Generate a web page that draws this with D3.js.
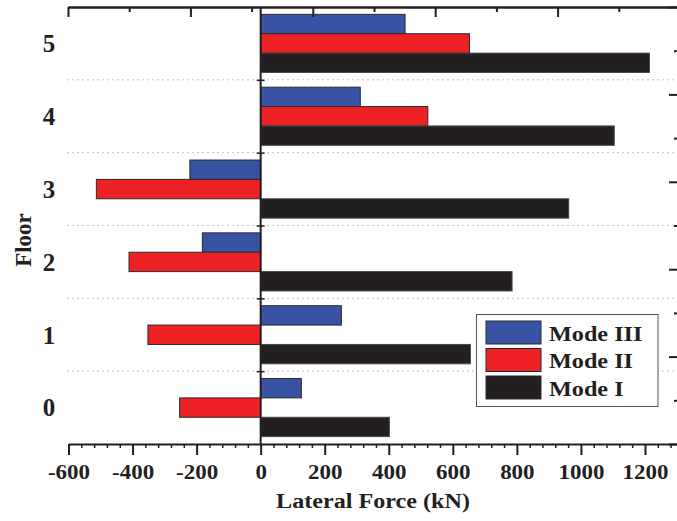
<!DOCTYPE html>
<html>
<head>
<meta charset="utf-8">
<script src="https://cdn.jsdelivr.net/npm/d3@7"></script>
<style>
  html, body { margin: 0; padding: 0; background: #fff; }
  svg { display: block; }
  text { font-family: "Liberation Serif", "Times New Roman", serif; font-weight: bold; fill: #231f20; }
</style>
</head>
<body>
<svg id="chart" width="677" height="521"></svg>
<script>
// Floors (top to bottom) and lateral force per vibration mode, kN
const floors = ["5", "4", "3", "2", "1", "0"];
const modeIII = [451, 311, -221, -182, 252, 127];
const modeII  = [652, 522, -513, -411, -352, -253];
const modeI   = [1214, 1104, 962, 785, 655, 402];
const seriesNames = ["Mode III", "Mode II", "Mode I"];
const seriesColors = ["#3853a4", "#ee2124", "#231f20"];
const xTickValues = [-600, -400, -200, 0, 200, 400, 600, 800, 1000, 1200];

(function () {
const series = [modeIII, modeII, modeI];
const svg = d3.select("#chart");
const ink = "#231f20";

const plotTop = 7, plotBottom = 444, plotLeft = 68.5, plotRight = 677;

const x = d3.scaleLinear().domain([-600, 1300]).range([plotLeft, plotRight]);
const y = d3.scaleBand().domain(floors).range([plotTop, plotBottom]);
const ySub = d3.scaleBand().domain(seriesNames).range([0, y.bandwidth()]).paddingOuter(0.38);

// dotted separators between floors
const boundaries = d3.scaleLinear().domain([0, 6]).range([plotBottom, plotTop]);
svg.append("g").selectAll("line").data([1, 2, 3, 4, 5]).join("line")
  .attr("x1", 67).attr("x2", plotRight)
  .attr("y1", d => boundaries(d)).attr("y2", d => boundaries(d))
  .attr("stroke", "#c4c4c4").attr("stroke-width", 1).attr("stroke-dasharray", "2,3");

// bars
series.forEach((vals, si) => {
  svg.append("g").selectAll("rect").data(vals).join("rect")
    .attr("x", d => x(Math.min(0, d)))
    .attr("width", d => Math.abs(x(d) - x(0)))
    .attr("y", (d, i) => y(floors[i]) + ySub(seriesNames[si]))
    .attr("height", ySub.bandwidth())
    .attr("fill", seriesColors[si])
    .attr("stroke", si === 2 ? "#4a4a4a" : "#2a2a2a")
    .attr("stroke-width", 1);
});

// zero line with small floor-boundary ticks
svg.append("line")
  .attr("x1", x(0)).attr("x2", x(0)).attr("y1", plotTop).attr("y2", plotBottom)
  .attr("stroke", ink).attr("stroke-width", 2);
const zeroTicks = svg.append("g").attr("transform", `translate(${x(0) + 4},0)`)
  .call(d3.axisLeft(boundaries).tickValues([1, 2, 3, 4, 5]).tickSize(8).tickFormat(""));
zeroTicks.select(".domain").remove();
zeroTicks.selectAll("line").attr("stroke", ink).attr("stroke-width", 1.5);

// bottom axis: minor ticks, then major ticks with labels
const minor = d3.range(-600, 1300, 40).filter(v => xTickValues.indexOf(v) < 0);
const gMinor = svg.append("g").attr("transform", `translate(0,${plotBottom})`)
  .call(d3.axisBottom(x).tickValues(minor).tickSize(4).tickSizeOuter(0).tickFormat(""));
gMinor.select(".domain").remove();
gMinor.selectAll("line").attr("stroke", ink).attr("stroke-width", 1.5);

const gx = svg.append("g").attr("transform", `translate(0,${plotBottom})`)
  .call(d3.axisBottom(x).tickValues(xTickValues).tickSize(11).tickSizeOuter(0)
    .tickFormat(d => String(d)));
gx.select(".domain").attr("stroke", ink).attr("stroke-width", 2.2);
gx.selectAll(".tick line").attr("stroke", ink).attr("stroke-width", 2);
gx.selectAll(".tick text")
  .attr("y", 35).attr("dy", 0)
  .attr("transform", "scale(1.15,1)")
  .style("font-size", "20px")
  .attr("fill", ink);

// top frame with alternating ticks
const xTop = d3.scaleLinear().domain([0, 10]).range([68, 680]);
const gt = svg.append("g").attr("transform", `translate(0,${plotTop})`);
gt.append("g").call(d3.axisBottom(xTop).tickValues([0, 2, 4, 6, 8, 10]).tickSize(10).tickSizeOuter(0).tickFormat(""));
gt.append("g").call(d3.axisBottom(xTop).tickValues([1, 3, 5, 7, 9]).tickSize(5).tickSizeOuter(0).tickFormat(""));
gt.selectAll(".domain").attr("stroke", ink).attr("stroke-width", 2.2);
gt.selectAll("line").attr("stroke", ink).attr("stroke-width", 2);

// right frame ticks
const yRight = d3.scaleLinear().domain([0, 10]).range([plotBottom, plotTop]);
const gr = svg.append("g").attr("transform", `translate(678,0)`);
gr.append("g").call(d3.axisLeft(yRight).tickValues([0, 2, 4, 6, 8, 10]).tickSize(9).tickFormat(""));
gr.append("g").call(d3.axisLeft(yRight).tickValues([1, 3, 5, 7, 9]).tickSize(4).tickFormat(""));
gr.selectAll(".domain").remove();
gr.selectAll("line").attr("stroke", ink).attr("stroke-width", 2);

// floor labels
svg.append("g").selectAll("text").data(floors).join("text")
  .attr("x", 49).attr("y", d => y(d) + y.bandwidth() / 2)
  .attr("dy", "0.35em").attr("text-anchor", "middle")
  .style("font-size", "25px").text(d => d);

// axis titles
svg.append("text")
  .attr("transform", "translate(31,240) rotate(-90)")
  .attr("text-anchor", "middle").style("font-size", "23px").text("Floor");
svg.append("text")
  .attr("transform", "translate(373,508) scale(1.15,1)")
  .attr("text-anchor", "middle").style("font-size", "21px").text("Lateral Force (kN)");

// legend
const lg = svg.append("g");
lg.append("rect").attr("x", 476.5).attr("y", 314.5).attr("width", 181.5).attr("height", 92)
  .attr("fill", "#fff").attr("stroke", "#555").attr("stroke-width", 1);
const items = lg.selectAll("g.item").data(seriesNames).join("g")
  .attr("class", "item")
  .attr("transform", (d, i) => `translate(486,${321 + i * 27.5})`);
items.append("rect").attr("width", 55).attr("height", 23)
  .attr("fill", (d, i) => seriesColors[i]).attr("stroke", "#2a2a2a").attr("stroke-width", 1);
items.append("text").attr("transform", "translate(63,19.5) scale(1.1,1)")
  .style("font-size", "22px").text(d => d);
})();
</script>
</body>
</html>
